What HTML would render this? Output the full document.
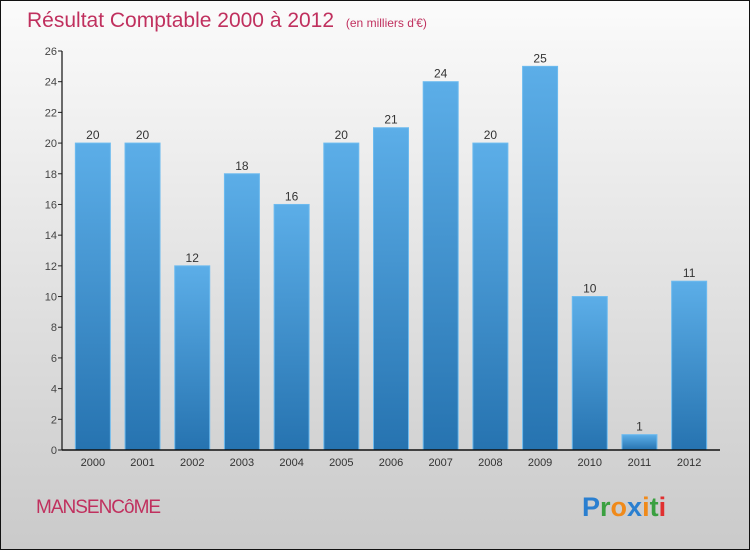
<!DOCTYPE html>
<html><head><meta charset="utf-8"><style>
body{margin:0;width:750px;height:550px;overflow:hidden;font-family:"Liberation Sans",sans-serif}
</style></head><body>
<svg width="750" height="550" xmlns="http://www.w3.org/2000/svg">
<defs>
<linearGradient id="bg" x1="0" y1="0" x2="0" y2="1"><stop offset="0" stop-color="#fbfbfb"/><stop offset="1" stop-color="#cacaca"/></linearGradient>
<linearGradient id="bar" x1="0" y1="0" x2="0" y2="1"><stop offset="0" stop-color="#5caee8"/><stop offset="1" stop-color="#2673b0"/></linearGradient>
</defs>
<rect x="0.5" y="0.5" width="749" height="549" fill="url(#bg)" stroke="#111"/>
<text x="27" y="27" font-size="21" fill="#c0305e">Résultat Comptable 2000 à 2012 <tspan font-size="12" dx="6">(en milliers d'€)</tspan></text>
<g id="plot"></g>
<text x="36" y="513" font-size="19" fill="#c0305e" letter-spacing="-1">MANSENCôME</text>
<text x="582" y="516" font-size="27" font-weight="bold"><tspan fill="#2a7fd0">P</tspan><tspan fill="#3aa040">r</tspan><tspan fill="#f08a1a">o</tspan><tspan fill="#2a7fd0">x</tspan><tspan fill="#f08a1a">i</tspan><tspan fill="#3aa040">t</tspan><tspan fill="#e03030">i</tspan></text>
</svg>
<script>
const categories=["2000","2001","2002","2003","2004","2005","2006","2007","2008","2009","2010","2011","2012"];
const values=[20,20,12,18,16,20,21,24,20,25,10,1,11];
const yTicks=[0,2,4,6,8,10,12,14,16,18,20,22,24,26];
const NS="http://www.w3.org/2000/svg";
const g=document.getElementById('plot');
const x0=62,x1=720,y0=450,yTop=51,yMax=26;
const y=v=>y0-(v/yMax)*(y0-yTop);
const step=(x1-x0-12)/categories.length;
const cx=i=>x0+6+step*(i+0.5);
function mk(t,a){const e=document.createElementNS(NS,t);for(const k in a)e.setAttribute(k,a[k]);g.appendChild(e);return e;}
yTicks.forEach(v=>{
 const l=mk('line',{x1:x0-4,x2:x0,y1:y(v),y2:y(v),stroke:'#222'});
 
 
 const t=mk('text',{x:x0-5,y:y(v)+4,'text-anchor':'end','font-size':11,fill:'#444'});
 t.textContent=v;
 
 
});
values.forEach((v,i)=>{
 const w=35;
 const r=mk('rect',{x:cx(i)-w/2,y:y(v),width:w,height:y0-y(v),fill:'url(#bar)',stroke:'#6dbbef','stroke-width':1});
 
 
 const t=mk('text',{x:cx(i),y:y(v)-4,'text-anchor':'middle','font-size':12,fill:'#333'});
 t.textContent=v;
 
 
 const c=mk('text',{x:cx(i),y:466,'text-anchor':'middle','font-size':11,fill:'#333'});
 c.textContent=categories[i];
 
 
});
const ya=mk('line',{x1:x0,x2:x0,y1:yTop,y2:y0,stroke:'#111','stroke-width':1.2});


const xa=mk('line',{x1:x0,x2:x1,y1:y0,y2:y0,stroke:'#111','stroke-width':1.5});


</script>
</body></html>
